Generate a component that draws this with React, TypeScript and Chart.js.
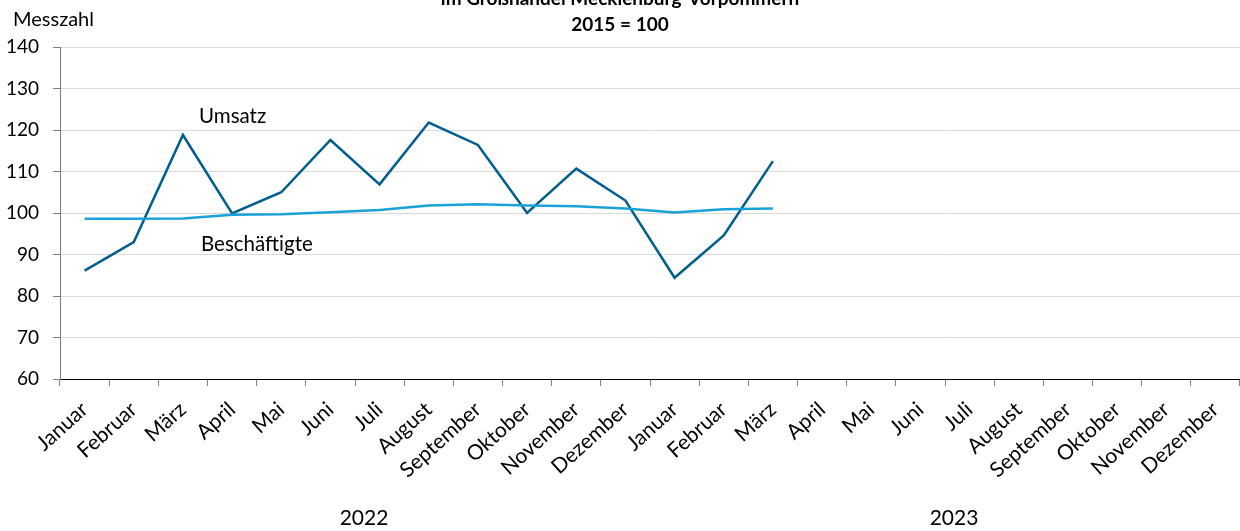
import React, { useEffect, useRef } from "react";
import { Chart, registerables } from "chart.js";

Chart.register(...registerables);

const months = ["Januar", "Februar", "März", "April", "Mai", "Juni", "Juli", "August", "September", "Oktober", "November", "Dezember"];
const categories = [...months, ...months];
const years = ["2022", "2023"];
const yTicks = [60, 70, 80, 90, 100, 110, 120, 130, 140];

const umsatz: (number | null)[] = [
  86.1, 93.0, 118.8, 99.9, 105.0, 117.6, 106.9, 121.8, 116.4, 100.0, 110.7, 103.0,
  84.4, 94.6, 112.5, null, null, null, null, null, null, null, null, null,
];
const beschaeftigte: (number | null)[] = [
  98.6, 98.6, 98.7, 99.6, 99.7, 100.2, 100.7, 101.8, 102.1, 101.8, 101.6, 101.1,
  100.1, 100.9, 101.1, null, null, null, null, null, null, null, null, null,
];

const titleLines = ["im Großhandel Mecklenburg-Vorpommern", "2015 = 100"];
const yAxisTitle = "Messzahl";
const seriesNames = ["Umsatz", "Beschäftigte"];

const FONT = "Lato, 'Open Sans', sans-serif";

const overlay = {
  id: "overlay",
  afterDraw(chart: any) {
    const ctx = chart.ctx;
    const x = chart.scales.x;
    ctx.save();
    ctx.fillStyle = "#000";
    ctx.textAlign = "center";
    ctx.textBaseline = "alphabetic";
    ctx.font = `bold 19px ${FONT}`;
    ctx.fillText(titleLines[0], 620, 5);
    ctx.fillText(titleLines[1], 620, 31);
    ctx.font = `20px ${FONT}`;
    ctx.textAlign = "left";
    ctx.fillText(yAxisTitle, 13, 26);
    ctx.font = `20.5px ${FONT}`;
    ctx.fillText(seriesNames[0], 199, 123);
    ctx.fillText(seriesNames[1], 201, 251);
    ctx.font = `21px ${FONT}`;
    ctx.textAlign = "center";
    ctx.textBaseline = "middle";
    years.forEach((yr, i) => {
      const cx = (x.getPixelForValue(i * 12 + 5) + x.getPixelForValue(i * 12 + 6)) / 2 + 9;
      ctx.fillText(yr, cx, 518);
    });
    ctx.restore();
  },
};

export default function App() {
  const ref = useRef<HTMLCanvasElement>(null);
  useEffect(() => {
    document.body.style.margin = "0";
    const chart = new Chart(ref.current!, {
      type: "line",
      data: {
        labels: categories,
        datasets: [
          {
            label: seriesNames[1],
            data: beschaeftigte,
            borderColor: "#1ba1da",
            borderWidth: 2.5,
            pointRadius: 0,
            tension: 0,
            spanGaps: false,
          },
          {
            label: seriesNames[0],
            data: umsatz,
            borderColor: "#005f8f",
            borderWidth: 2.5,
            pointRadius: 0,
            tension: 0,
            spanGaps: false,
          },
        ],
      },
      options: {
        animation: false,
        responsive: true,
        maintainAspectRatio: false,
        layout: { padding: { top: 47, right: 0, left: 0, bottom: 0 } },
        plugins: {
          legend: { display: false },
          tooltip: { enabled: false },
          title: { display: false },
        },
        scales: {
          x: {
            type: "category",
            offset: true,
            grid: {
              drawOnChartArea: false,
              drawTicks: true,
              tickLength: 7,
              offset: true,
              tickColor: "#7f7f7f",
              lineWidth: 1,
            },
            border: { display: true, color: "#000", width: 1 },
            ticks: {
              autoSkip: false,
              maxRotation: 42,
              minRotation: 42,
              color: "#000",
              font: { family: FONT, size: 21 },
              padding: 11,
            },
            afterFit(scale: any) {
              scale.height = 152;
              scale.paddingRight = 0;
              scale.paddingLeft = 0;
            },
          },
          y: {
            min: 60,
            max: 140,
            afterBuildTicks(scale: any) {
              scale.ticks = yTicks.map((v) => ({ value: v }));
            },
            grid: {
              color: "#d9d9d9",
              lineWidth: 1,
              drawTicks: true,
              tickLength: 7,
              tickColor: "#7f7f7f",
            },
            border: { display: true, color: "#7f7f7f", width: 1 },
            ticks: {
              color: "#000",
              font: { family: FONT, size: 19 },
              padding: 14,
            },
            afterFit(scale: any) {
              scale.width = 60;
            },
          },
        },
      },
      plugins: [overlay],
    });
    return () => chart.destroy();
  }, []);
  return (
    <div style={{ width: 1240, height: 531, position: "relative" }}>
      <canvas ref={ref} />
    </div>
  );
}
